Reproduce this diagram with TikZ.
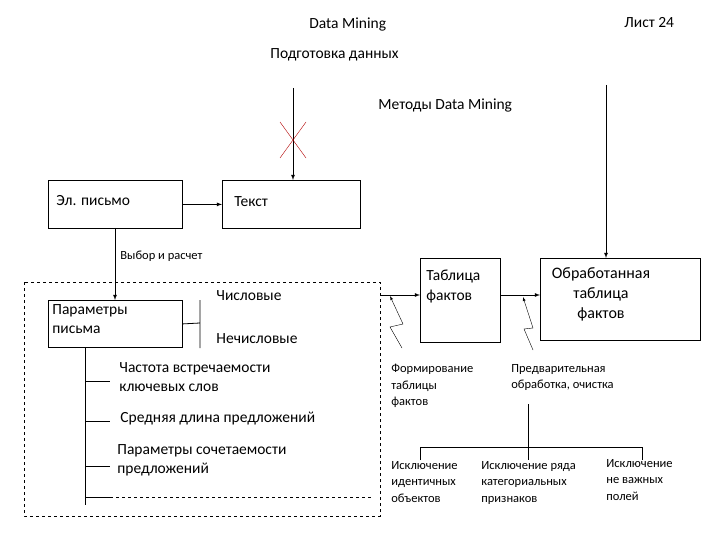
\documentclass[tikz,border=0pt]{standalone}
\usepackage{fontspec}
\setmainfont{Carlito}
\usetikzlibrary{positioning, arrows}

\begin{document}
\begin{tikzpicture}[x=1pt,y=-1pt,>=latex,thick,
    box/.style={draw,thick,anchor=north west,inner sep=0pt},
    txt/.style={anchor=north west,align=left,inner sep=0pt,font=\fontsize{15.5}{19.5}\selectfont},
    small/.style={anchor=north west,align=left,inner sep=0pt,font=\fontsize{12.5}{16.5}\selectfont}]
\useasboundingbox (0,0) rectangle (720,540);

% titles
\node[txt] (title) at (309,17) {Data Mining};
\node[txt] (sheet) at (624,17) {Лист 24};
\node[txt] (prep) at (270,48) {Подготовка данных};
\node[txt] (meth) at (378,98) {Методы Data Mining};

% upper boxes
\node[box,minimum width=134pt,minimum height=48pt] (mail) at (48,180) {};
\node[txt] (maill) at (56,195) {Эл. письмо};
\node[box,minimum width=138pt,minimum height=48pt] (text) at (222,180) {};
\node[txt] (textl) at (234,196) {Текст};
\coordinate (topA) at (293,88);
\coordinate (topB) at (606,85);
\draw[->] (mail.east) -- (text.west);
\draw[->] (topA) -- (293,180);
\draw[red!70!black,thin] (280,122) -- (306,158) (306,122) -- (280,158);
\node[small] (choice) at (120,251) {Выбор и расчет};

% dashed region
\draw[dashed,thin] (24,282) rectangle (380,516);
\node[box,minimum width=134pt,minimum height=47pt] (par) at (48,300) {};
\node[txt] (parl) at (52,304) {Параметры\\письма};
\draw[->] (115,228) -- (par.north -| 115,0);
\draw (par.east) -- (200,323) (200,300) -- (200,348);
\node[txt] (num) at (216,290) {Числовые};
\node[txt] (nnum) at (216,333) {Нечисловые};
\draw (85,347) -- (85,505);
\foreach \yy in {381,421,466,497} \draw (85,\yy) -- (110,\yy);
\draw[dashed,thin] (110,497) -- (372,497);
\node[txt] (freq) at (119,362) {Частота встречаемости\\ключевых слов};
\node[txt] (avg) at (120,412) {Средняя длина предложений};
\node[txt] (comb) at (117,444) {Параметры сочетаемости\\предложений};

% right boxes
\node[box,minimum width=80pt,minimum height=84pt] (fact) at (420,258) {};
\node[txt] (factl) at (426,270) {Таблица\\фактов};
\node[box,minimum width=160pt,minimum height=82pt] (proc) at (540,258) {};
\node[font=\fontsize{16}{20}\selectfont,align=center] (procl) at (601,294) {Обработанная\\таблица\\фактов};
\draw[->] (380,295) -- (fact.west |- 0,295);
\draw[->] (fact.east |- 0,295) -- (proc.west |- 0,295);
\draw[->] (topB) -- (proc.north -| topB);
\draw[thin,->] (402,348) -- (390,327) -- (403,324) -- (390,296);
\draw[thin,->] (533,350) -- (524,329) -- (533,328) -- (523,297);

\node[small] (form) at (391,364) {Формирование\\таблицы\\фактов};
\node[small] (pre) at (511,364) {Предварительная\\обработка, очистка};
\draw[thin] (528,404) -- (528,447) (420,460) -- (420,447) -- (642,447) -- (642,460) (528,447) -- (528,460);
\node[small] (ex1) at (391,461) {Исключение\\идентичных\\объектов};
\node[small] (ex2) at (481,461) {Исключение ряда\\категориальных\\признаков};
\node[small] (ex3) at (606,459) {Исключение\\не важных\\полей};
\end{tikzpicture}
\end{document}
